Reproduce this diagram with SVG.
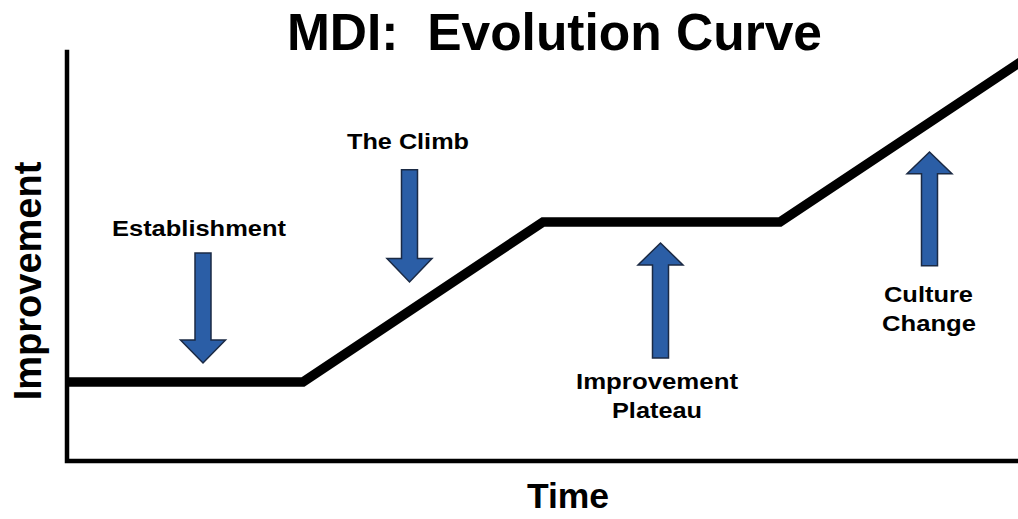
<svg xmlns="http://www.w3.org/2000/svg" width="1018" height="519" viewBox="0 0 1018 519">
  <style>
    .title { font-family: "Liberation Sans", Arial, sans-serif; font-weight: bold; fill: #000; white-space: pre; }
    .label { font-family: "Liberation Sans", Arial, sans-serif; font-weight: bold; font-size: 22px; fill: #000; text-anchor: middle; }
    .arrow { fill: #2B5EA6; stroke: #1B2A44; stroke-width: 1.5; stroke-linejoin: miter; }
    .axis { fill: none; stroke: #000; stroke-width: 4.5; stroke-linecap: square; }
    .curve { fill: none; stroke: #000; stroke-width: 9.5; stroke-linejoin: miter; }
  </style>
  <defs>
    <!-- block arrow pointing down, tip at origin -->
    <path id="arrowDown" d="M -8 -110 L 8 -110 L 8 -23 L 22.5 -23 L 0 0 L -22.5 -23 L -8 -23 Z"/>
    <!-- block arrow pointing up, tip at origin -->
    <path id="arrowUp" d="M -8 115 L 8 115 L 8 22 L 22.5 22 L 0 0 L -22.5 22 L -8 22 Z"/>
  </defs>

  <rect width="1018" height="519" fill="#fff"/>

  <text class="title" x="554.5" y="50" font-size="51.5" text-anchor="middle" xml:space="preserve">MDI:  Evolution Curve</text>

  <!-- axes -->
  <g id="axes">
    <polyline class="axis" points="67,52 67,461 1018,461"/>
    <text class="title" x="568" y="508" font-size="35.5" text-anchor="middle">Time</text>
    <text class="title" font-size="38" text-anchor="middle" transform="translate(41 281) rotate(-90)">Improvement</text>
  </g>

  <!-- evolution curve -->
  <g id="connectors">
    <polyline class="curve" points="67,382 303,382 543,222 780,222 1022,61"/>
  </g>

  <g id="establishment">
    <use href="#arrowDown" class="arrow" transform="translate(203 363)"/>
    <text class="label" x="199" y="236" textLength="174" lengthAdjust="spacingAndGlyphs">Establishment</text>
  </g>

  <g id="the-climb">
    <use href="#arrowDown" class="arrow" transform="translate(409.5 282) scale(1 1.02)"/>
    <text class="label" x="408" y="149" textLength="122" lengthAdjust="spacingAndGlyphs">The Climb</text>
  </g>

  <g id="improvement-plateau">
    <use href="#arrowUp" class="arrow" transform="translate(660.5 243)"/>
    <text class="label" x="657" y="389" textLength="162" lengthAdjust="spacingAndGlyphs">Improvement</text>
    <text class="label" x="657" y="418" textLength="90" lengthAdjust="spacingAndGlyphs">Plateau</text>
  </g>

  <g id="culture-change">
    <use href="#arrowUp" class="arrow" transform="translate(929.5 152) scale(1 0.99)"/>
    <text class="label" x="928.5" y="302" textLength="89" lengthAdjust="spacingAndGlyphs">Culture</text>
    <text class="label" x="929" y="331" textLength="94" lengthAdjust="spacingAndGlyphs">Change</text>
  </g>
</svg>
